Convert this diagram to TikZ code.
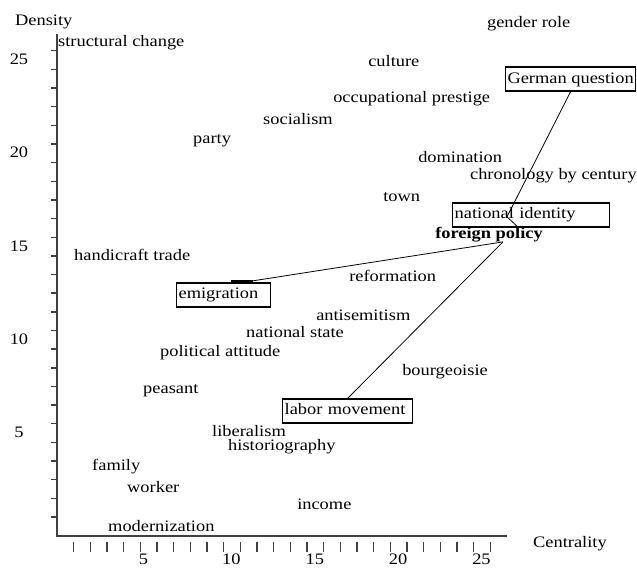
\documentclass[tikz,border=0pt]{standalone}
\usepackage{fontspec}
\setmainfont[FakeStretch=1.15]{Liberation Serif}
\usepackage{tikz}

\begin{document}
\begin{tikzpicture}[x=16.67pt, y=18.65pt,
  lbl/.style={anchor=base west, inner sep=0pt, font=\fontsize{16pt}{18pt}\selectfont},
  boxed/.style={lbl, draw=black, line width=1.2pt, inner xsep=2pt, inner ysep=4pt, text height=12pt, text depth=4pt, align=left},
  axline/.style={draw=black!75, line width=1.8pt},
  axtick/.style={draw=black!75, line width=1.4pt},
  link/.style={draw=black, line width=0.8pt}]
  \useasboundingbox (-3.419,-2.681) rectangle (34.793,27.721);

  % axes
  \draw[axline] (0,25.9) -- (0,-1.02) -- (27,-1.02);
  \foreach \v in {0,...,25} \draw[axtick] (-0.33,\v) -- (0,\v);
  \foreach \u in {1,...,26} \draw[axtick] (\u,-1.34) -- (\u,-1.88);
  \foreach \v in {5,10,...,25} \node[lbl, anchor=base] (ylab\v) at (-2.28,\v-0.74) {\v};
  \foreach \u in {5,10,...,25} \node[lbl] (xlab\u) at (\u-0.1,-2.53) {\u};
  \node[lbl] (density) at (-2.52,26.38) {Density};
  \node[lbl] (centrality) at (28.55,-1.66) {Centrality};

  % terms
  \node[lbl] (structchange) at (0.06,25.25) {structural change};
  \node[lbl] (genderrole) at (25.79,26.27) {gender role};
  \node[lbl] (culture) at (18.66,24.13) {culture};
  \node[lbl] (occprestige) at (16.56,22.20) {occupational prestige};
  \node[lbl] (socialism) at (12.36,21.02) {socialism};
  \node[lbl] (party) at (8.16,20.00) {party};
  \node[lbl] (domination) at (21.66,19.03) {domination};
  \node[lbl] (chronology) at (24.77,18.12) {chronology by century};
  \node[lbl] (town) at (19.56,16.89) {town};
  \node[lbl, font={\fontsize{16pt}{18pt}\selectfont\bfseries}] (fp) at (22.68,14.91) {foreign policy};
  \node[lbl] (handicraft) at (1.02,13.78) {handicraft trade};
  \node[lbl] (reformation) at (17.52,12.65) {reformation};
  \node[lbl] (antisem) at (15.54,10.56) {antisemitism};
  \node[lbl] (natstate) at (11.34,9.60) {national state};
  \node[lbl] (polattitude) at (6.18,8.58) {political attitude};
  \node[lbl] (bourgeoisie) at (20.70,7.61) {bourgeoisie};
  \node[lbl] (peasant) at (5.16,6.60) {peasant};
  \node[lbl] (liberalism) at (9.30,4.29) {liberalism};
  \node[lbl] (historiography) at (10.26,3.54) {historiography};
  \node[lbl] (family) at (2.10,2.47) {family};
  \node[lbl] (worker) at (4.20,1.34) {worker};
  \node[lbl] (income) at (14.40,0.38) {income};
  \node[lbl] (modernization) at (3.06,-0.80) {modernization};

  % boxed terms
  \node[boxed] (gq) at (26.87,23.27) {German question};
  \node[boxed, text width=153pt] (natid) at (23.70,15.98) {national identity};
  \node[boxed, text width=90pt] (emig) at (7.14,11.69) {emigration};
  \node[boxed, text width=126pt] (labor) at (13.50,5.47) {labor movement};

  % links
  \coordinate (nipt) at (26.99,16.09);
  \coordinate (nitip) at (27.65,15.55);
  \coordinate (hub) at (26.75,14.75);
  \draw[link] (gq.south) -- (nipt) -- (nitip);
  \draw[line width=2pt] ([xshift=7pt,yshift=1.5pt]emig.north) -- ([xshift=29pt,yshift=1.5pt]emig.north);
  \draw[link] ([xshift=29pt,yshift=1.5pt]emig.north) -- (hub);
  \draw[link] (labor.north) -- (hub);
\end{tikzpicture}
\end{document}
